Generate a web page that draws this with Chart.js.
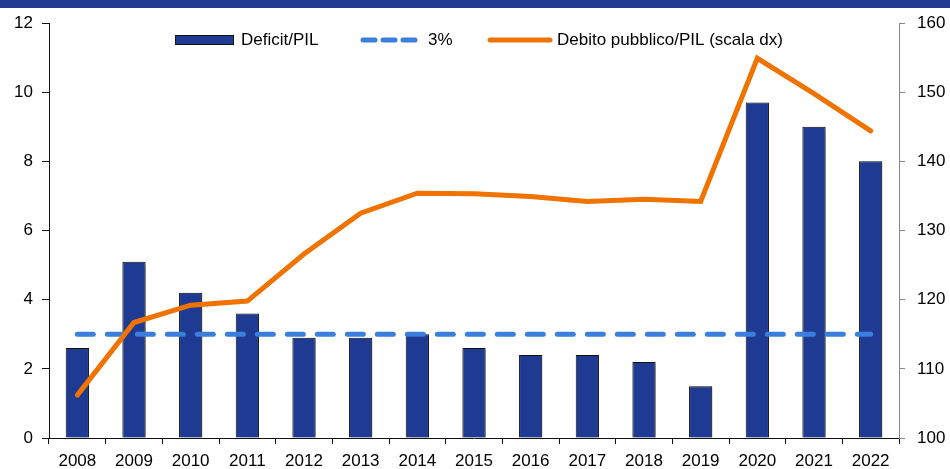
<!DOCTYPE html>
<html>
<head>
<meta charset="utf-8">
<script src="https://cdn.jsdelivr.net/npm/chart.js@4.4.0/dist/chart.umd.min.js"></script>
<style>
  html, body { margin: 0; padding: 0; background: #fff; }
  #wrap { width: 950px; height: 469px; position: relative; }
</style>
</head>
<body>
<div id="wrap"><canvas id="chart" width="950" height="469"></canvas></div>
<script>
const years = ['2008', '2009', '2010', '2011', '2012', '2013', '2014', '2015', '2016', '2017', '2018', '2019', '2020', '2021', '2022'];
const deficit = [2.6, 5.1, 4.2, 3.6, 2.9, 2.9, 3.0, 2.6, 2.4, 2.4, 2.2, 1.5, 9.7, 9.0, 8.0];
const threshold = [3, 3, 3, 3, 3, 3, 3, 3, 3, 3, 3, 3, 3, 3, 3];
const debt = [106.2, 116.7, 119.2, 119.8, 126.6, 132.5, 135.4, 135.3, 134.9, 134.2, 134.5, 134.2, 154.9, 149.8, 144.4];
const leftTicks = [0, 2, 4, 6, 8, 10, 12];
const rightTicks = [100, 110, 120, 130, 140, 150, 160];

const FONT = '"Liberation Sans", Arial, sans-serif';
const BAR_COLOR = '#1f3a93';
const DASH_COLOR = '#3b7fdc';
const LINE_COLOR = '#f07300';

// dark band on top + legend drawn inside the plot area
const decor = {
    id: 'decor',
    beforeDraw(chart) {
        const ctx = chart.ctx;
        ctx.save();
        ctx.fillStyle = '#213a92';
        ctx.fillRect(0, 0, chart.width, 8);
        ctx.restore();
    },
    afterDraw(chart) {
        const ctx = chart.ctx;
        const y = 40;
        ctx.save();
        ctx.font = '17px ' + FONT;
        ctx.textBaseline = 'middle';

        ctx.fillStyle = BAR_COLOR;
        ctx.fillRect(175, 35, 59, 10);
        ctx.strokeStyle = '#111';
        ctx.lineWidth = 1;
        ctx.strokeRect(175.5, 35.5, 58, 9);
        ctx.fillStyle = '#000';
        ctx.fillText('Deficit/PIL', 241, y);

        ctx.strokeStyle = DASH_COLOR;
        ctx.lineWidth = 5;
        ctx.lineCap = 'round';
        [363, 383, 403].forEach(x => {
            ctx.beginPath();
            ctx.moveTo(x, y);
            ctx.lineTo(x + 12, y);
            ctx.stroke();
        });
        ctx.fillText('3%', 428, y);

        ctx.strokeStyle = LINE_COLOR;
        ctx.beginPath();
        ctx.moveTo(490, y);
        ctx.lineTo(550, y);
        ctx.stroke();
        ctx.fillText('Debito pubblico/PIL (scala dx)', 557, y);
        ctx.restore();
    }
};

// soft shadow behind the bars
const barShadow = {
    id: 'barShadow',
    beforeDatasetDraw(chart, args) {
        if (args.index !== 0) return;
        const ctx = chart.ctx;
        ctx.save();
        ctx.shadowColor = 'rgba(0,0,0,0.35)';
        ctx.shadowBlur = 3;
        ctx.shadowOffsetX = 2;
        ctx.shadowOffsetY = 1;
    },
    afterDatasetDraw(chart, args) {
        if (args.index !== 0) return;
        chart.ctx.restore();
    }
};

const ctx = document.getElementById('chart').getContext('2d');
new Chart(ctx, {
    type: 'bar',
    data: {
        labels: years,
        datasets: [
            {
                type: 'bar',
                label: 'Deficit/PIL',
                data: deficit,
                backgroundColor: BAR_COLOR,
                borderColor: '#111',
                borderWidth: 1,
                barPercentage: 0.41,
                categoryPercentage: 1,
                yAxisID: 'y',
                order: 3
            },
            {
                type: 'line',
                label: '3%',
                data: threshold,
                borderColor: DASH_COLOR,
                borderWidth: 5,
                borderDash: [16, 14],
                borderCapStyle: 'round',
                pointRadius: 0,
                tension: 0,
                yAxisID: 'y',
                order: 2
            },
            {
                type: 'line',
                label: 'Debito pubblico/PIL (scala dx)',
                data: debt,
                borderColor: LINE_COLOR,
                borderWidth: 5,
                borderCapStyle: 'round',
                borderJoinStyle: 'miter',
                pointRadius: 0,
                tension: 0,
                yAxisID: 'y2',
                order: 1
            }
        ]
    },
    options: {
        responsive: false,
        animation: false,
        devicePixelRatio: 1,
        layout: { padding: { top: 23, left: 0, right: 0, bottom: 0 } },
        plugins: {
            legend: { display: false },
            tooltip: { enabled: false }
        },
        scales: {
            x: {
                offset: true,
                afterFit: s => { s.height = 31; },
                grid: { offset: true, drawOnChartArea: false, tickLength: 6, color: '#111', lineWidth: 1 },
                border: { color: '#111', width: 1 },
                ticks: { color: '#000', font: { family: FONT, size: 17 }, padding: 7, maxRotation: 0, autoSkip: false }
            },
            y: {
                position: 'left',
                min: 0,
                max: 12,
                afterFit: s => { s.width = 49; },
                afterBuildTicks: s => { s.ticks = leftTicks.map(v => ({ value: v })); },
                grid: { drawOnChartArea: false, tickLength: 7, color: '#111' },
                border: { color: '#111', width: 1 },
                ticks: { color: '#000', font: { family: FONT, size: 17 }, padding: 9 }
            },
            y2: {
                position: 'right',
                min: 100,
                max: 160,
                afterFit: s => { s.width = 51; },
                afterBuildTicks: s => { s.ticks = rightTicks.map(v => ({ value: v })); },
                grid: { drawOnChartArea: false, tickLength: 6, color: '#888' },
                border: { color: '#888', width: 1 },
                ticks: { color: '#000', font: { family: FONT, size: 17 }, padding: 12 }
            }
        }
    },
    plugins: [decor, barShadow]
});
</script>
</body>
</html>
